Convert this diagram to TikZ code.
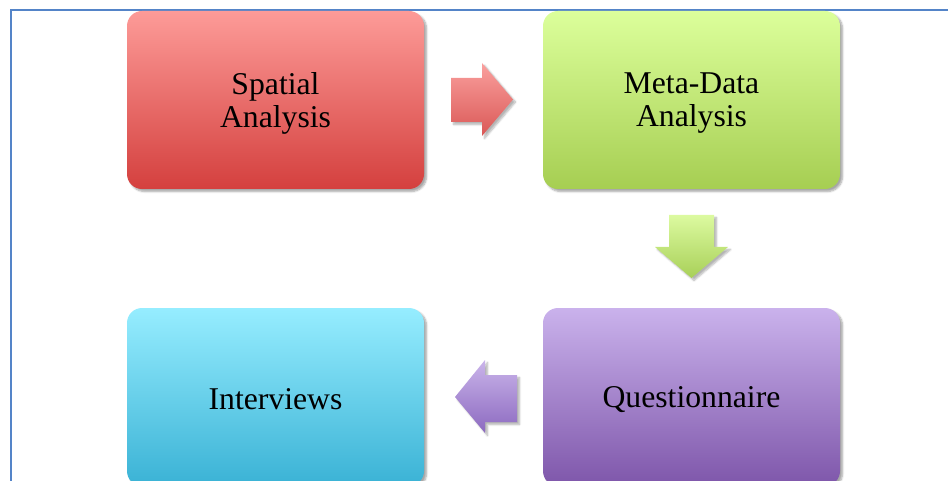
\documentclass[tikz,border=0pt]{standalone}
\usepackage{fontspec}
\setmainfont{Liberation Serif}
\usetikzlibrary{shadows.blur}
\definecolor{frame}{RGB}{84,132,200}
\definecolor{redT}{RGB}{253,155,152}
\definecolor{redB}{RGB}{212,64,62}
\definecolor{grnT}{RGB}{220,255,155}
\definecolor{grnB}{RGB}{166,206,82}
\definecolor{bluT}{RGB}{150,237,255}
\definecolor{bluB}{RGB}{58,178,213}
\definecolor{purT}{RGB}{202,178,236}
\definecolor{purB}{RGB}{126,86,170}
\definecolor{raT}{RGB}{250,160,158}
\definecolor{raB}{RGB}{218,88,86}
\definecolor{gaT}{RGB}{220,250,160}
\definecolor{gaB}{RGB}{168,208,88}
\definecolor{paT}{RGB}{202,180,234}
\definecolor{paB}{RGB}{140,106,192}
\tikzset{
  box/.style={rectangle, rounded corners=15pt, minimum width=297pt, minimum height=178pt,
    inner sep=0pt,
    blur shadow={shadow xshift=2.5pt, shadow yshift=-2.5pt, shadow blur steps=6, shadow opacity=35}},
  boxtext/.style={inner sep=0pt, align=center, font=\fontsize{31.7}{33}\selectfont},
  blockarrow/.style={blur shadow={shadow xshift=2.5pt, shadow yshift=-2.5pt, shadow blur steps=6, shadow opacity=30}}
}
\begin{document}
\begin{tikzpicture}[x=1pt,y=-1pt]
\useasboundingbox (0,0) rectangle (948,481);
\begin{scope}
\clip (0,0) rectangle (948,481);
\draw[frame, line width=2.6pt] (11,500) -- (11,10) -- (960,10);
\node[box, top color=redT, bottom color=redB] (spatial) at (275.5,100) {};
\node[box, top color=grnT, bottom color=grnB] (meta) at (691.5,100) {};
\node[box, top color=bluT, bottom color=bluB] (interviews) at (275.5,397) {};
\node[box, top color=purT, bottom color=purB] (quest) at (691.5,397) {};
\node[boxtext, yshift=-3pt] (spatialtxt) at (spatial.center) {Spatial\\Analysis};
\node[boxtext, yshift=-3pt] (metatxt) at (meta.center) {Meta-Data\\Analysis};
\node[boxtext, yshift=-2pt] (interviewstxt) at (interviews.center) {Interviews};
\node[boxtext, yshift=-3pt] (questtxt) at (quest.center) {Questionnaire};
% block arrows
\path[blockarrow, top color=raT, bottom color=raB]
  (451,78) -- (482,78) -- (482,63) -- (513,99.5) -- (482,136) -- (482,122) -- (451,122) -- cycle;
\path[blockarrow, top color=gaT, bottom color=gaB]
  (669,215) -- (714,215) -- (714,247) -- (728,247) -- (691.5,278) -- (655,247) -- (669,247) -- cycle;
\path[blockarrow, top color=paT, bottom color=paB]
  (517,375) -- (485,375) -- (485,360) -- (455,397) -- (485,433) -- (485,422) -- (517,422) -- cycle;
\end{scope}
\end{tikzpicture}
\end{document}
